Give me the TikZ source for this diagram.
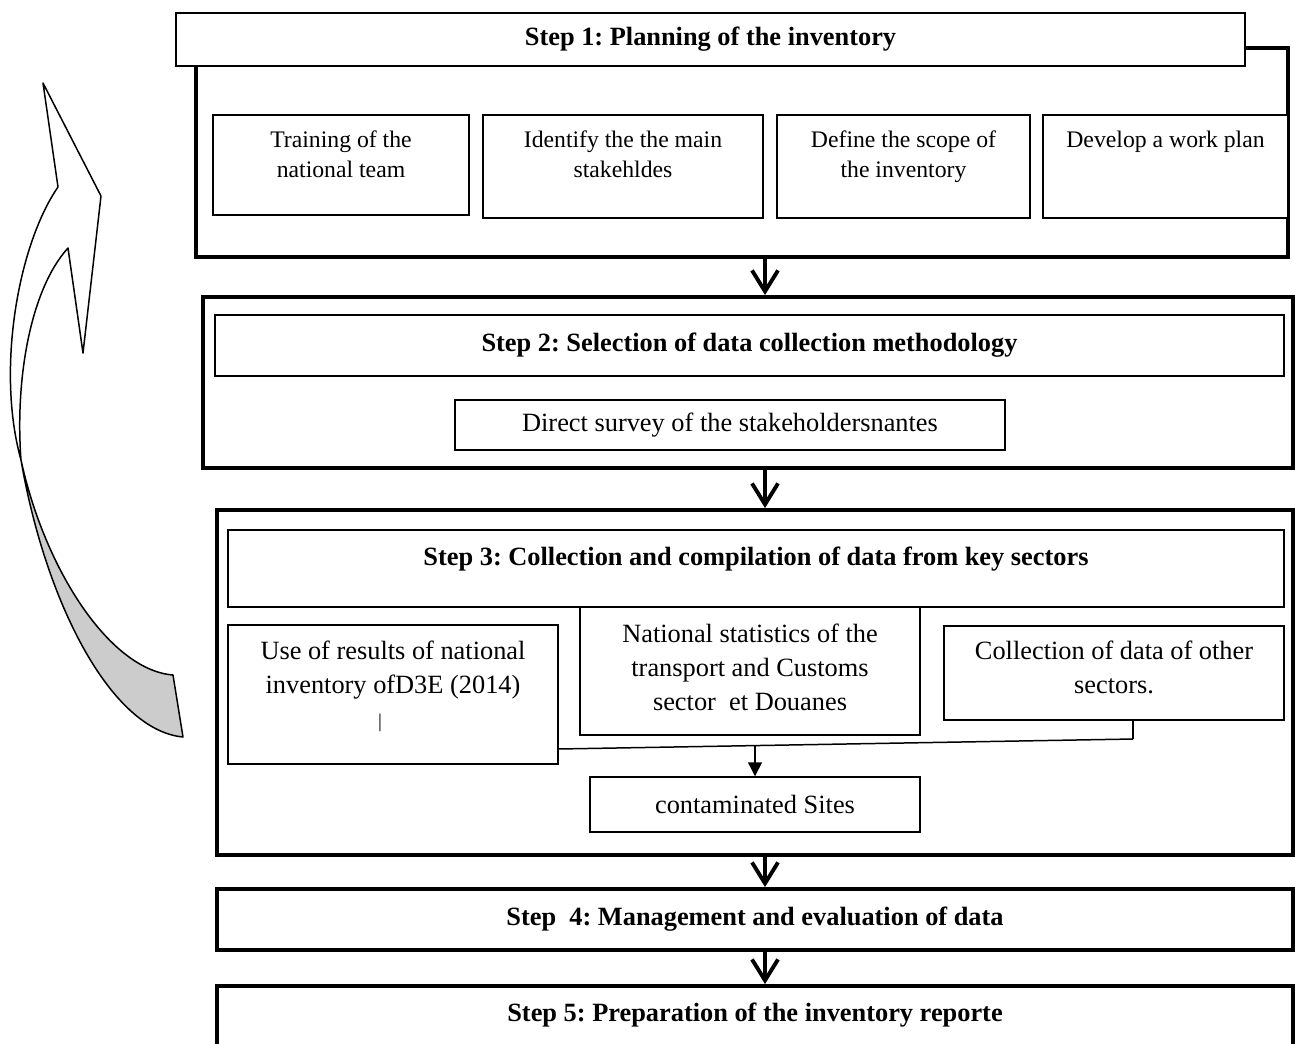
\documentclass[tikz,border=0pt]{standalone}
\usepackage{fontspec}
\setmainfont{Liberation Serif}
\usepackage{tikz}
\usetikzlibrary{arrows.meta}
\frenchspacing
\tikzset{
  stepframe/.style={draw,line width=2.2pt,inner sep=0pt},
  stepbox/.style={stepframe,fill=white,font=\fontsize{15}{19.5}\selectfont\bfseries},
  steptitle/.style={draw,fill=white,line width=0.85pt,inner sep=0pt,font=\fontsize{15}{19.5}\selectfont\bfseries},
  subbox/.style={draw,fill=white,line width=0.85pt,inner sep=0pt,align=flush center,font=\fontsize{15}{19.5}\selectfont},
  planbox/.style={subbox,font=\fontsize{13.5}{17.6}\selectfont},
  steparrow/.style={-{Straight Barb[length=4.2mm,width=5.2mm]},line width=2.2pt},
  linkline/.style={line width=0.85pt},
  linkarrow/.style={linkline,-{Triangle[length=2.8mm,width=2.8mm]}},
  loopshape/.style={draw,line width=0.85pt,line join=round},
}

\begin{document}
\begin{tikzpicture}
  \useasboundingbox (0,0) rectangle (25.90,-20.86);
  \clip (0,0) rectangle (25.90,-20.86);
  \coordinate (ax) at (15.30,0.00);
  \node[stepframe,minimum width=21.84cm,minimum height=4.18cm] (frm1) at (14.84,-3.05) {};
  \node[steptitle,minimum width=21.38cm,minimum height=1.06cm] (ttl1) at (14.21,-0.79) {Step 1: Planning of the inventory};
  \node[planbox,text width=5.12cm,text height=0.64cm,text depth=1.36cm] (tr) at (6.82,-3.30) {Training of the\\national team};
  \node[planbox,text width=5.60cm,text height=0.64cm,text depth=1.42cm] (st) at (12.46,-3.33) {Identify the the main\\stakehldes};
  \node[planbox,text width=5.06cm,text height=0.64cm,text depth=1.42cm] (sc) at (18.07,-3.33) {Define the scope of\\the inventory};
  \node[planbox,text width=4.90cm,text height=0.64cm,text depth=1.42cm] (wp) at (23.31,-3.33) {Develop a work plan};
  \node[stepframe,minimum width=21.80cm,minimum height=3.42cm] (frm2) at (14.96,-7.65) {};
  \node[steptitle,minimum width=21.38cm,minimum height=1.22cm] (ttl2) at (14.99,-6.91) {Step 2: Selection of data collection methodology};
  \node[subbox,minimum width=11.00cm,minimum height=1.00cm] (sv) at (14.60,-8.50) {Direct survey of the stakeholdersnantes};
  \node[stepframe,minimum width=21.52cm,minimum height=6.90cm] (frm3) at (15.10,-13.65) {};
  \node[steptitle,minimum width=21.12cm,text height=0.70cm,text depth=0.84cm] (ttl3) at (15.12,-11.37) {Step 3: Collection and compilation of data from key sectors};
  \node[subbox,text width=6.60cm,text height=0.68cm,text depth=2.10cm] (ui) at (7.86,-13.89) {Use of results of national\\inventory ofD3E (2014)\\\hspace*{-0.52cm}{\fontsize{11}{19.5}\selectfont|}};
  \node[subbox,text width=6.80cm,text height=0.70cm,text depth=1.86cm] (ns) at (15.00,-13.42) {National statistics of the\\transport and Customs\\sector\ \ et Douanes};
  \node[subbox,text width=6.80cm,text height=0.66cm,text depth=1.22cm] (od) at (22.28,-13.46) {Collection of data of other\\sectors.};
  \node[subbox,minimum width=6.60cm,minimum height=1.10cm] (cs) at (15.10,-16.09) {contaminated Sites};
  \coordinate (jl) at (11.16,-14.98);
  \coordinate (jr) at (22.66,-14.78);
  \coordinate (jm) at (15.10,-14.91);
  \draw[linkline] (jl) -- (jr);
  \draw[linkline] (od.south -| jr) -- (jr);
  \draw[linkarrow] (jm) -- (cs.north);
  \node[stepbox,minimum width=21.52cm,minimum height=1.22cm] (s4) at (15.10,-18.39) {Step\ \ 4: Management and evaluation of data};
  \node[stepbox,minimum width=21.52cm,text height=0.70cm,text depth=0.98cm] (s5) at (15.10,-20.56) {Step 5: Preparation of the inventory reporte};
  \draw[steparrow] (frm1.south -| ax) -- (frm2.north -| ax);
  \draw[steparrow] (frm2.south -| ax) -- (frm3.north -| ax);
  \draw[steparrow] (frm3.south -| ax) -- (s4.north -| ax);
  \draw[steparrow] (s4.south -| ax) -- (s5.north -| ax);
  \draw[loopshape,fill=white] (0.42,-9.20) .. controls (-0.08,-7.40) and (0.36,-4.90) .. (1.16,-3.74)
    -- (0.86,-1.66) -- (2.02,-3.92) -- (1.66,-7.06) -- (1.36,-4.96)
    .. controls (0.60,-5.80) and (0.30,-7.60) .. (0.42,-9.20) -- cycle;
  \draw[loopshape,fill=black!20] (0.42,-9.20) .. controls (0.90,-12.00) and (2.20,-14.60) .. (3.66,-14.74)
    -- (3.46,-13.50) .. controls (2.20,-13.40) and (0.90,-11.40) .. (0.42,-9.20) -- cycle;
\end{tikzpicture}
\end{document}
